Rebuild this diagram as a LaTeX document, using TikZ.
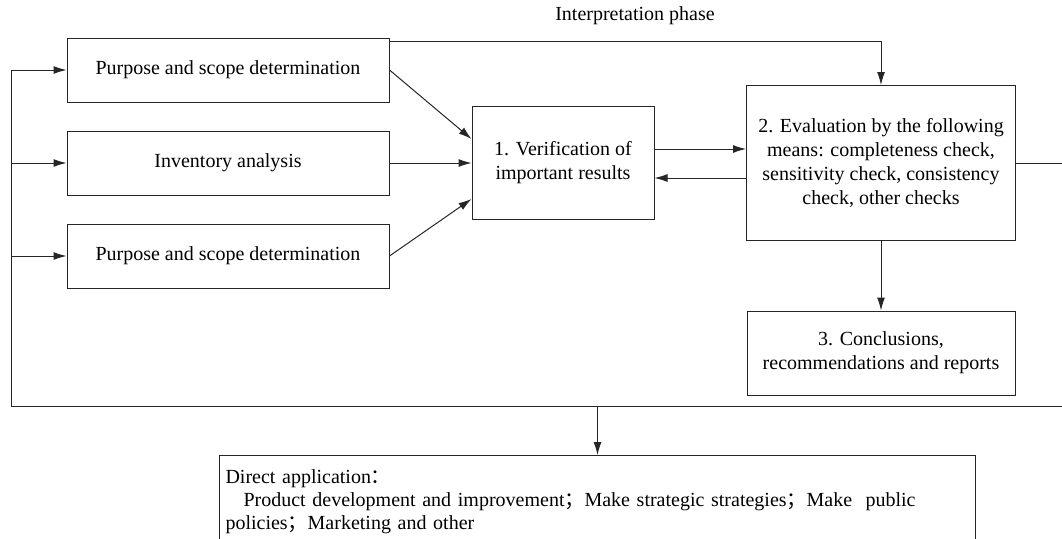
\documentclass[tikz,border=0pt]{standalone}
\usepackage{fontspec}
\setmainfont{Liberation Serif}
\newfontfamily\cjk{Noto Sans CJK SC}
\usetikzlibrary{arrows.meta,positioning}

\tikzset{
  box/.style={draw=black!85, line width=1pt, align=center, inner sep=4pt},
  line/.style={draw=black!85, line width=1pt},
}

\begin{document}
\begin{tikzpicture}[x=1pt,y=-1pt,node distance=93pt,on grid,
    font=\fontsize{20}{24}\selectfont,
    >={Latex[length=13pt,width=8pt]}]
    \useasboundingbox (0,0) rectangle (1062,538);
    \clip (0,0) rectangle (1062,538);

    \node[box,minimum width=322pt,minimum height=64pt] (purp1) at (228,70) {Purpose and scope determination};
    \node[box,minimum width=322pt,minimum height=64pt] (inv) [below=of purp1] {Inventory analysis};
    \node[box,minimum width=322pt,minimum height=64pt] (purp2) [below=of inv] {Purpose and scope determination};
    \node[box,minimum width=182pt,minimum height=113pt] (verif) [right=335pt of inv] {1. Verification of\\important results};
    \node[box,minimum width=269pt,minimum height=155pt] (eval) [right=318pt of verif] {2. Evaluation by the following\\means: completeness check,\\sensitivity check, consistency\\check, other checks};
    \node[box,minimum width=268pt,minimum height=84pt] (concl) [below=190pt of eval] {3. Conclusions,\\recommendations and reports};
    \node (phase) at (635,16) {Interpretation phase};
    \node[box,anchor=north west,align=left,text width=744pt,text depth=80pt,
          inner xsep=6pt,inner ysep=14pt,font=\fontsize{20}{23}\selectfont] (app) at (219,455)
          {Direct application{\cjk ：}\\
           \hspace*{18pt}Product development and improvement{\cjk ；}Make strategic strategies{\cjk ；}Make\ \ public\\
           policies{\cjk ；}Marketing and other};

    \coordinate (loopL) at (11,406);
    \coordinate (loopR) at (1090,406);

    \path[line,->]
    ([yshift=-4pt]purp1.north east) -| (eval.north);
    \path[line,->] (purp1.east) -- ([yshift=24pt]verif.west);
    \path[line,->] (inv.east) -- (verif.west);
    \path[line,->] (purp2.east) -- ([yshift=-36pt]verif.west);
    \path[line,->] ([yshift=14pt]verif.east) -- ([yshift=14pt]eval.west);
    \path[line,->] ([yshift=-15pt]eval.west) -- ([yshift=-15pt]verif.east);
    \path[line,->] (eval.south) -- (concl.north);

    % feedback loop
    \path[line,->] (eval.east) -| (loopR) -- (loopL) |- (purp1.west);
    \path[line,->] (loopL |- inv.west) -- (inv.west);
    \path[line,->] (loopL |- purp2.west) -- (purp2.west);
    \path[line,->] (loopL -| app.north) -- (app.north);
\end{tikzpicture}
\end{document}
